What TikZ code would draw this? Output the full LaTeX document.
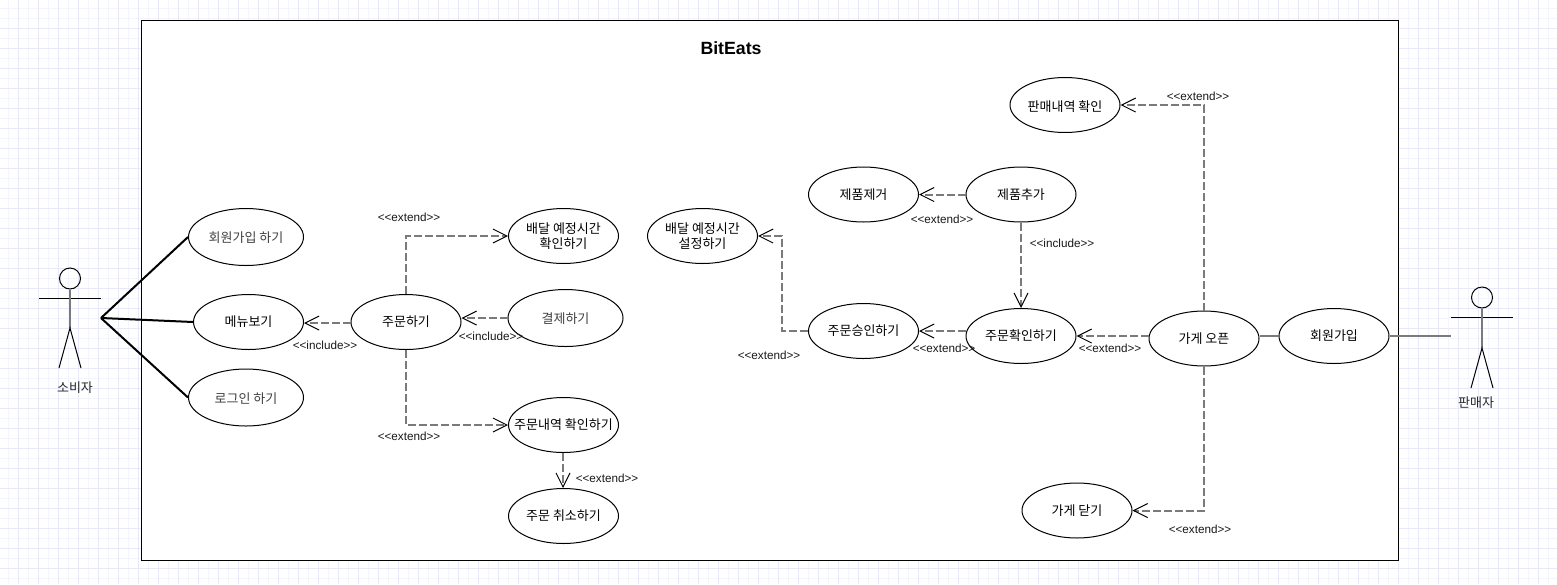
\documentclass[tikz,border=0pt]{standalone}
\usepackage{fontspec}
\setmainfont{Liberation Sans}
\newfontfamily\kr{Noto Sans CJK KR}
\newfontfamily\tagfont{Liberation Sans}
\usetikzlibrary{arrows.meta,shapes.geometric}
\definecolor{gridfine}{HTML}{F4F4FD}
\definecolor{gridmajor}{HTML}{E8E8FB}
\definecolor{relgrey}{HTML}{7A7A7A}
\tikzset{
  x=1pt,y=-1pt,
  usecase/.style={draw=black,fill=white,ellipse,line width=1pt,inner sep=0pt},
  uctext/.style={font=\fontsize{13}{14.5}\selectfont\kr,align=center,inner sep=0pt,text=black},
  softtext/.style={uctext,text=black!75,yshift=-1pt},
  lowtext/.style={uctext,yshift=-1.5pt},
  rel/.style={draw=relgrey,line width=2pt,dash pattern=on 8pt off 3pt,-{Straight Barb[length=14pt,width=14pt,line width=1pt,black]}},
  assoc/.style={draw=black,line width=2pt},
  plain/.style={draw=relgrey,line width=2pt},
  tag/.style={font=\fontsize{11.7}{13}\selectfont\tagfont,text=black!90,inner sep=0pt},
  limb/.style={draw=black,line width=1pt},
  body/.style={draw=relgrey,line width=2pt},
  actorlabel/.style={font=\fontsize{13}{15}\selectfont\kr,text=black!85,inner sep=0pt},
}
\newcommand{\uc}[6][uctext]{\node[usecase,minimum width=#5pt,minimum height=#6pt,label={[#1]center:{#4}}] (#2) at #3 {};}
\newcommand{\ext}{<\kern0pt<extend>\kern0pt>}
\newcommand{\inc}{<\kern0pt<include>\kern0pt>}
\begin{document}
\begin{tikzpicture}
\useasboundingbox (0,0) rectangle (1557,584);
\fill[white] (0,0) rectangle (1557,584);
\foreach \i in {0,10,...,1550} \draw[gridfine,line width=1pt] (\i+8.5,0) -- (\i+8.5,584);
\foreach \i in {0,10,...,580} \draw[gridfine,line width=1pt] (0,\i+8.5) -- (1557,\i+8.5);
\foreach \i in {0,20,...,1540} \draw[gridmajor,line width=1pt] (\i+18.5,0) -- (\i+18.5,584);
\foreach \i in {0,20,...,560} \draw[gridmajor,line width=1pt] (0,\i+28.5) -- (1557,\i+28.5);
\node[draw=black,fill=white,line width=1pt,minimum width=1257pt,minimum height=540pt,inner sep=0pt] (system) at (770,290.5) {};
\node[font=\bfseries\fontsize{17.7}{20}\selectfont,inner sep=0pt] (title) at (731,48) {BitEats};
% left use cases
\uc[softtext]{join}{(246,237)}{회원가입 하기}{115}{57}
\uc{menu}{(248.5,322)}{메뉴보기}{110}{55}
\uc[softtext]{login}{(246,397.5)}{로그인 하기}{115}{57}
\uc{order}{(406,322)}{주문하기}{110}{55}
\uc{eta}{(563.5,236)}{배달 예정시간\\확인하기}{110}{55}
\uc[softtext]{pay}{(565.5,318)}{결제하기}{115}{57}
\uc{hist}{(563.5,425)}{주문내역 확인하기}{110}{55}
\uc{cancel}{(563.5,516)}{주문 취소하기}{110}{55}
% right use cases
\uc{setEta}{(702.5,236)}{배달 예정시간\\설정하기}{110}{55}
\uc{rem}{(863.5,194.5)}{제품제거}{110}{55}
\uc{add}{(1021,194.5)}{제품추가}{110}{55}
\uc{appr}{(863.5,331)}{주문승인하기}{110}{55}
\uc{chk}{(1021,336)}{주문확인하기}{110}{55}
\uc{open}{(1204,338.5)}{가게 오픈}{110}{55}
\uc{signup}{(1334,336)}{회원가입}{110}{55}
\uc[lowtext]{sales}{(1065,105)}{판매내역 확인}{110}{55}
\uc{close}{(1077,510.5)}{가게 닫기}{110}{55}
% actors
\coordinate (ca) at (101,318);
\node[draw=black,circle,line width=1pt,minimum size=21pt,inner sep=0pt] (headL) at (70,278.5) {};
\coordinate (armLa) at (39,298); \coordinate (armLb) at (101,298);
\coordinate (hipL) at (70,328);
\coordinate (footLa) at (59,368); \coordinate (footLb) at (81,368);
\draw[limb] (armLa) -- (armLb);
\draw[body] (headL.south) -- (hipL);
\draw[limb] (footLa) -- (hipL) -- (footLb);
\node[actorlabel] (actorL) at (75,388) {소비자};
\node[draw=black,circle,line width=1pt,minimum size=21pt,inner sep=0pt] (headR) at (1482,297.5) {};
\coordinate (armRa) at (1451,317); \coordinate (armRb) at (1513,317);
\coordinate (hipR) at (1482,348);
\coordinate (footRa) at (1471,388); \coordinate (footRb) at (1493,388);
\draw[limb] (armRa) -- (armRb);
\draw[body] (headR.south) -- (hipR);
\draw[limb] (footRa) -- (hipR) -- (footRb);
\node[actorlabel] (actorR) at (1476,403) {판매자};
% associations
\draw[assoc] (ca) -- (join.west);
\draw[assoc] (ca) -- (menu.west);
\draw[assoc] (ca) -- (login.west);
\coordinate (armEnd) at (1451,336);
\draw[plain] (signup.east) -- (armEnd);
\draw[plain] (open.east |- signup.west) -- (signup.west);
% dependencies
\draw[rel] ([yshift=-1pt]order.west) -- ([yshift=-1pt]menu.east);
\draw[rel] (order.north) |- (eta.west);
\draw[rel] (pay.west) -- (order.east |- pay.west);
\draw[rel] (order.south) |- (hist.west);
\draw[rel] ([xshift=-0.5pt]hist.south) -- ([xshift=-0.5pt]cancel.north);
\draw[rel] (add.west) -- (rem.east);
\draw[rel] (add.south) -- (chk.north);
\draw[rel] (chk.west |- appr.east) -- (appr.east);
\draw[rel] (appr.west) -- (782,331) -- (782,236) -- (setEta.east);
\draw[rel] (open.west |- chk.east) -- (chk.east);
\draw[rel] (open.north) |- (sales.east);
\draw[rel] (open.south) |- (close.east);
% labels
\node[tag] (t1) at (409,217) {\ext};
\node[tag] (t2) at (409,436) {\ext};
\node[tag] (t3) at (325,345) {\inc};
\node[tag] (t4) at (491,336) {\inc};
\node[tag] (t5) at (607,478) {\ext};
\node[tag] (t6) at (942,219) {\ext};
\node[tag] (t7) at (1062,243) {\inc};
\node[tag] (t8) at (769,355) {\ext};
\node[tag] (t9) at (944,348) {\ext};
\node[tag] (t10) at (1110,348) {\ext};
\node[tag] (t11) at (1198,96) {\ext};
\node[tag] (t12) at (1200,529) {\ext};
\end{tikzpicture}
\end{document}
